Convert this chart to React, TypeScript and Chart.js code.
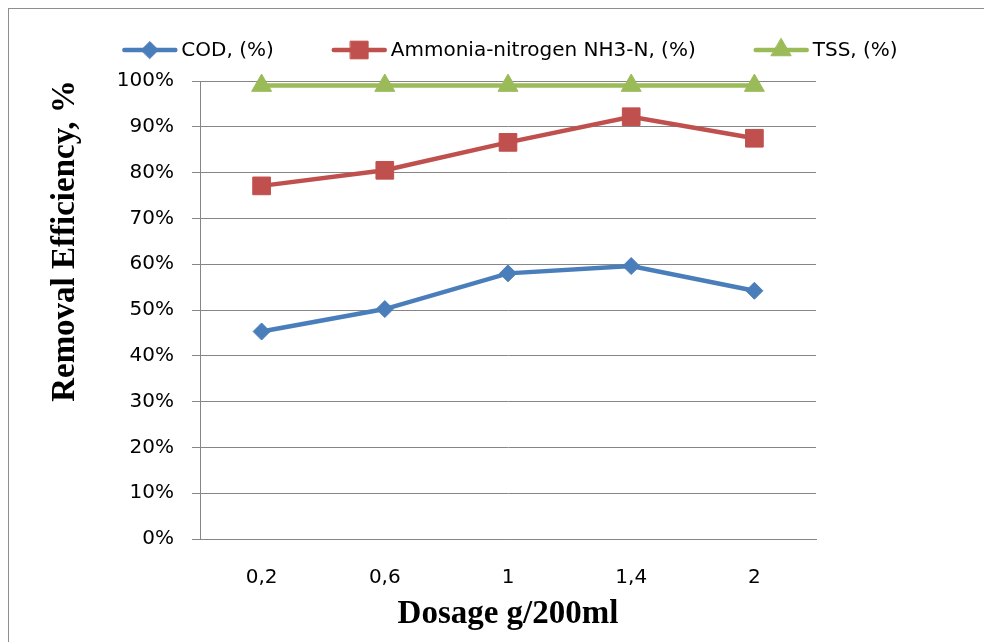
import React, { useEffect, useRef } from "react";
import { Chart, registerables } from "chart.js";
import { drawPoint } from "chart.js/helpers";
Chart.register(...registerables);

const categories = ["0,2", "0,6", "1", "1,4", "2"];
const codValues = [45.3, 50.2, 58.0, 59.6, 54.2];
const ammoniaValues = [77.1, 80.5, 86.6, 92.2, 87.5];
const tssValues = [99, 99, 99, 99, 99];
const seriesNames = ["COD, (%)", "Ammonia-nitrogen NH3-N, (%)", "TSS, (%)"];
const xTitle = "Dosage g/200ml";
const yTitle = "Removal Efficiency, %";

const GRID = "#868686";
const TICK_FONT = "'DejaVu Sans'";

const overlayPlugin = {
  id: "overlay",
  afterDraw(chart: any) {
    const ctx = chart.ctx as CanvasRenderingContext2D;
    const area = chart.chartArea;
    ctx.save();
    // legend
    ctx.font = `20px ${TICK_FONT}`;
    const symW = 55, symGap = 4, itemGap = 58;
    const items = chart.data.datasets.map((ds: any) => ({ ds, w: ctx.measureText(ds.label).width }));
    const total = items.reduce((s: number, it: any) => s + symW + symGap + it.w, 0) + itemGap * (items.length - 1);
    let x = (area.left + area.right) / 2 - total / 2 + 2;
    const y = 41;
    ctx.textBaseline = "middle";
    ctx.textAlign = "left";
    for (const it of items) {
      const ds = it.ds;
      ctx.strokeStyle = ds.borderColor;
      ctx.fillStyle = ds.borderColor;
      ctx.lineWidth = ds.borderWidth;
      ctx.lineCap = "round";
      ctx.beginPath();
      ctx.moveTo(x + 2, y);
      ctx.lineTo(x + symW - 2, y);
      ctx.stroke();
      ctx.lineWidth = 1;
      drawPoint(ctx, { pointStyle: ds.pointStyle, radius: ds.pointRadius, rotation: 0, borderWidth: 1 } as any, x + symW / 2, y);
      ctx.fillStyle = "#000";
      ctx.fillText(ds.label, x + symW + symGap, y + 1);
      x += symW + symGap + it.w + itemGap;
    }
    // titles
    ctx.fillStyle = "#000";
    ctx.font = "bold 33px 'Liberation Serif'";
    ctx.textAlign = "center";
    ctx.textBaseline = "middle";
    ctx.fillText(xTitle, (area.left + area.right) / 2, 605);
    ctx.translate(56, 232);
    ctx.rotate(-Math.PI / 2);
    ctx.fillText(yTitle, 0, 0);
    ctx.restore();
  },
};

export default function App() {
  const ref = useRef<HTMLCanvasElement>(null);
  useEffect(() => {
    if (!ref.current) return;
    const mk = (label: string, data: number[], color: string, style: string, r: number) => ({
      label,
      data,
      borderColor: color,
      backgroundColor: color,
      borderWidth: 4.5,
      pointStyle: style,
      pointRadius: r,
      pointHoverRadius: r,
      pointBorderWidth: 1,
      pointBorderColor: color,
      pointBackgroundColor: color,
      tension: 0,
      clip: false as any,
    });
    const chart = new Chart(ref.current, {
      type: "line",
      data: {
        labels: categories,
        datasets: [
          mk(seriesNames[0], codValues, "#4a7ebb", "rectRot", 8.5),
          mk(seriesNames[1], ammoniaValues, "#c0504d", "rect", 12.5),
          mk(seriesNames[2], tssValues, "#9bbb59", "triangle", 11.5),
        ],
      },
      options: {
        animation: false,
        responsive: false,
        layout: { padding: { top: 72, right: 168, left: 0, bottom: 0 } },
        plugins: { legend: { display: false }, tooltip: { enabled: false } },
        scales: {
          x: {
            type: "category",
            offset: true,
            grid: { display: true, drawOnChartArea: false, drawTicks: false, color: "transparent" },
            border: { display: true, color: GRID, width: 1 },
            ticks: { color: "#000", font: { family: TICK_FONT, size: 20 }, padding: 27 },
            afterFit: (s: any) => { s.height = 110; },
          },
          y: {
            min: 0,
            max: 100,
            grid: { color: GRID, lineWidth: 1, tickLength: 8, drawTicks: true },
            border: { display: true, color: GRID, width: 1 },
            ticks: {
              stepSize: 10,
              color: "#000",
              font: { family: TICK_FONT, size: 20 },
              padding: 18,
              callback: (v: any) => `${v}%`,
            },
            afterFit: (s: any) => { s.width = 191; },
          },
        },
      },
      plugins: [overlayPlugin],
    });
    return () => chart.destroy();
  }, []);
  return (
    <div style={{ width: 977, height: 660, border: "1px solid #8e8e8e", boxSizing: "border-box", background: "#fff" }}>
      <canvas ref={ref} width={975} height={640} style={{ display: "block" }} />
    </div>
  );
}
